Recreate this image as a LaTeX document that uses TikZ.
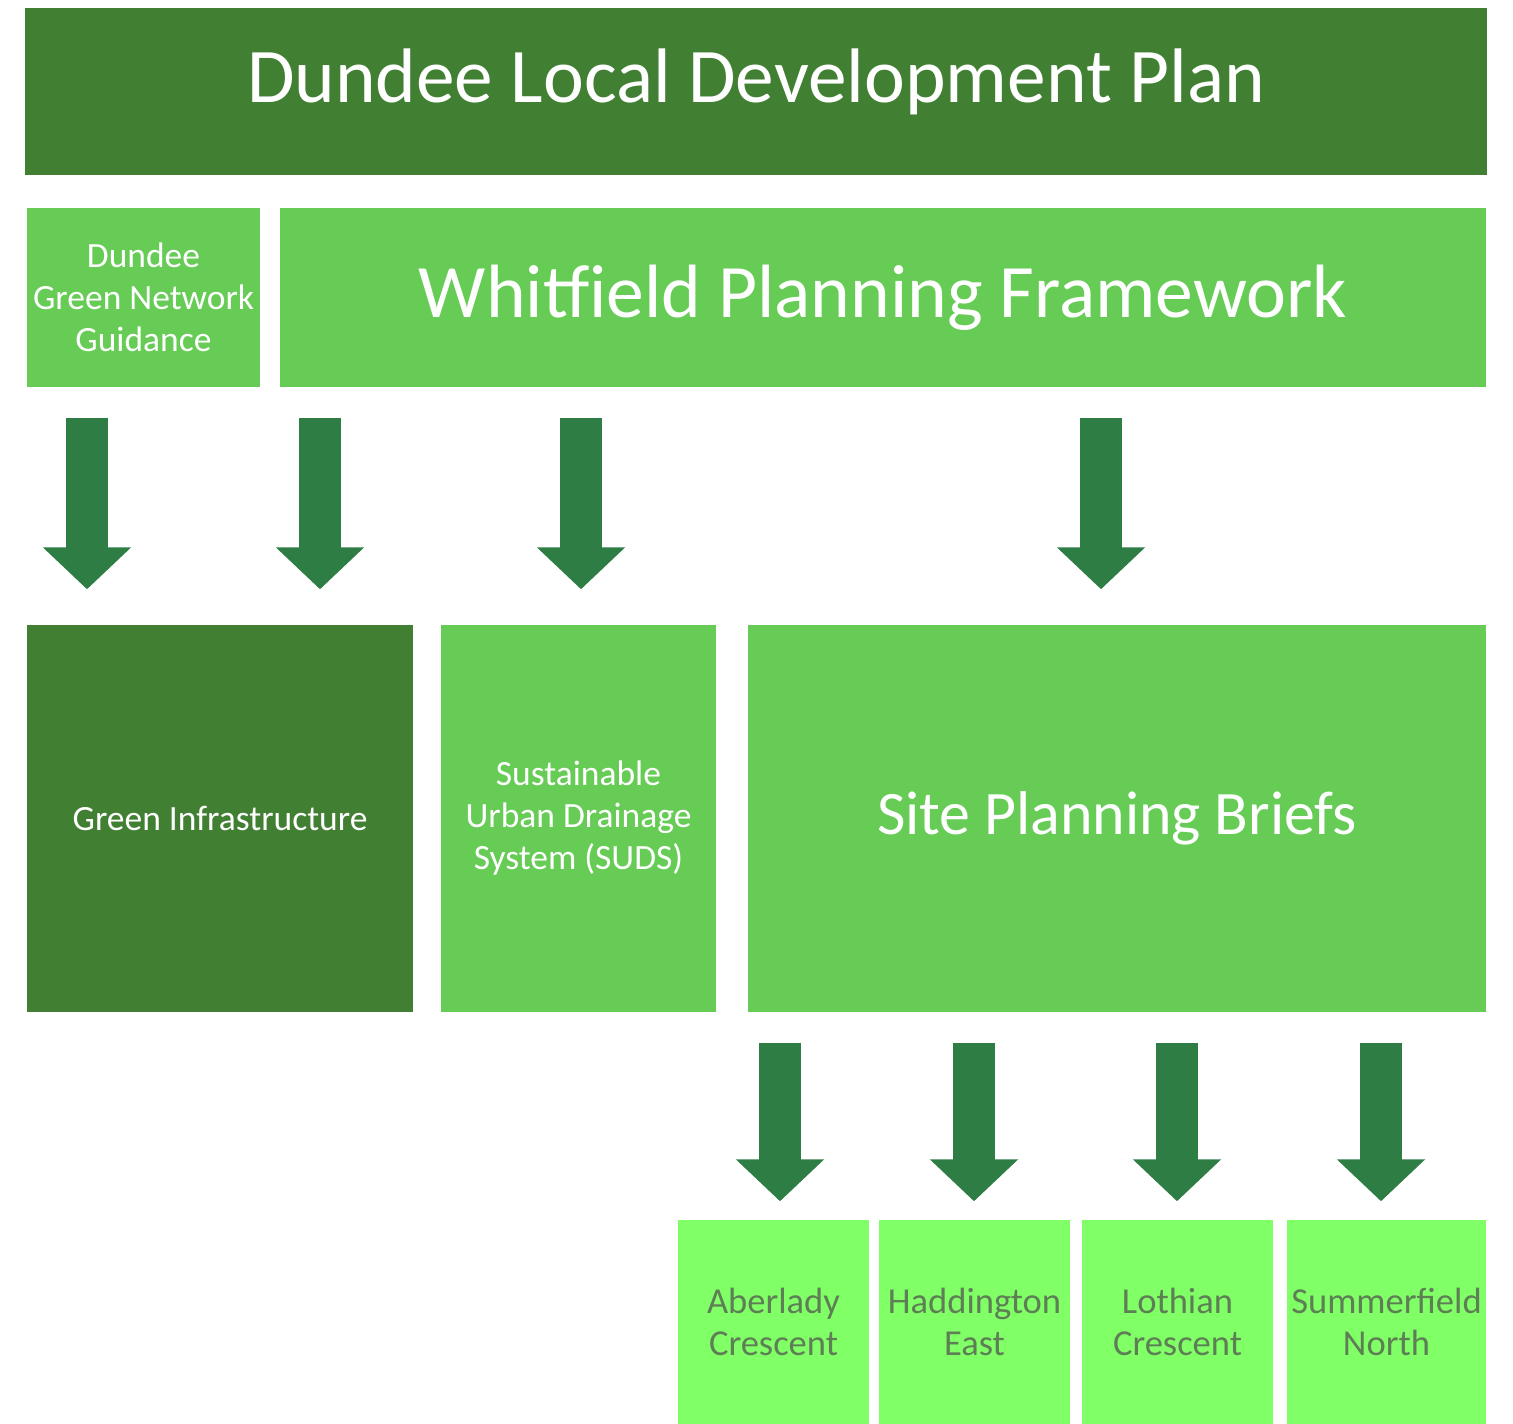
\documentclass[tikz,border=0pt]{standalone}
\usepackage{fontspec}
\setmainfont{Carlito}
\usetikzlibrary{arrows.meta,calc,positioning}
\definecolor{plangreen}{HTML}{417F33}
\definecolor{leafgreen}{HTML}{66CC55}
\definecolor{limegreen}{HTML}{80FF66}
\definecolor{arrowgreen}{HTML}{2E7D45}
\definecolor{sitetext}{HTML}{5E7E55}
\tikzset{
  block/.style={rectangle, inner sep=0pt, align=center, text=white},
  darkblock/.style={block, fill=plangreen},
  lightblock/.style={block, fill=leafgreen},
  siteblock/.style={block, fill=limegreen, text=sitetext, minimum width=1.91cm, minimum height=2.04cm},
  flow/.style={arrowgreen, line width=4.2mm, -{Triangle[width=8.6mm,length=4.2mm]}},
  title/.style={font=\fontsize{22pt}{26pt}\selectfont, text depth=0.32cm},
  big/.style={font=\fontsize{21.5pt}{26pt}\selectfont},
  mid/.style={font=\fontsize{17.6pt}{21pt}\selectfont},
  small/.style={font=\fontsize{10.1pt}{11.95pt}\selectfont},
  site/.style={font=\fontsize{10.4pt}{11.8pt}\selectfont},
}
\begin{document}
\begin{tikzpicture}
\useasboundingbox (0,0) rectangle (15.13,14.24);
% top level
\node[darkblock, title, minimum width=14.62cm, minimum height=1.67cm] (ldp) at (7.56,13.325) {Dundee Local Development Plan};
% second row
\node[lightblock, small, minimum width=2.33cm, minimum height=1.79cm] (dgn) at (1.435,11.265) {Dundee\\Green Network\\Guidance};
\node[lightblock, big, minimum width=12.06cm, minimum height=1.79cm] (wpf) at (8.83,11.265) {Whitfield Planning Framework};
% third row
\node[darkblock, small, minimum width=3.86cm, minimum height=3.87cm] (gi) at (2.20,6.055) {Green Infrastructure};
\node[lightblock, small, minimum width=2.75cm, minimum height=3.87cm] (suds) at (5.785,6.055) {Sustainable\\Urban Drainage\\System (SUDS)};
\node[lightblock, mid, minimum width=7.38cm, minimum height=3.87cm] (spb) at (11.17,6.055) {Site Planning Briefs};
% site briefs
\node[siteblock, site] (abc) at (7.735,1.02) {Aberlady\\Crescent};
\node[siteblock, site] (hde) at (9.745,1.02) {Haddington\\East};
\node[siteblock, site] (lth) at (11.775,1.02) {Lothian\\Crescent};
\node[siteblock, site, minimum width=1.99cm] (smn) at (13.865,1.02) {Summerfield\\North};
% arrows
\foreach \x in {0.87,3.20,5.81,11.01}
  \draw[flow] ($(\x,0 |- wpf.south)+(0,-0.30)$) -- ($(\x,0 |- spb.north)+(0,0.35)$);
\foreach \x in {7.80,9.74,11.77,13.81}
  \draw[flow] ($(\x,0 |- spb.south)+(0,-0.30)$) -- ($(\x,0 |- abc.north)+(0,0.18)$);
\end{tikzpicture}
\end{document}
